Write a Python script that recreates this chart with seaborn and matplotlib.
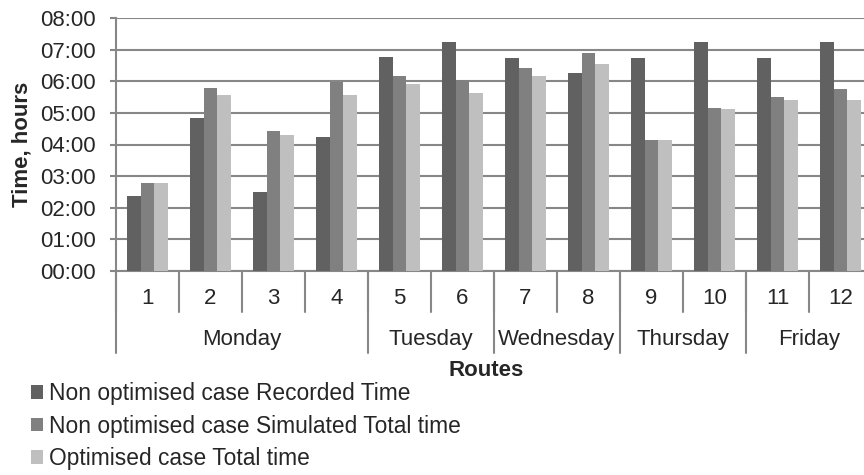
import pandas as pd
import matplotlib.pyplot as plt
import matplotlib.transforms as mtransforms
from matplotlib.ticker import FuncFormatter, MultipleLocator
import seaborn as sns

# data (hours)
routes = ['1', '2', '3', '4', '5', '6', '7', '8', '9', '10', '11', '12']
days = ['Monday', 'Tuesday', 'Wednesday', 'Thursday', 'Friday']
day_routes = [4, 2, 2, 2, 2]   # how many routes belong to each day
series = ['Non optimised case Recorded Time',
          'Non optimised case Simulated Total time',
          'Optimised case Total time']
recorded = [2.37, 4.84, 2.49, 4.24, 6.76, 7.25, 6.75, 6.25, 6.75, 7.25, 6.75, 7.25]
simulated = [2.79, 5.80, 4.42, 5.97, 6.17, 6.03, 6.43, 6.88, 4.13, 5.15, 5.50, 5.76]
optimised = [2.77, 5.57, 4.29, 5.55, 5.90, 5.64, 6.18, 6.56, 4.13, 5.11, 5.42, 5.40]

colors = ['#616161', '#808080', '#bfbfbf']
grey = '#878787'

df = pd.DataFrame({'route': routes * 3,
                   'series': [s for s in series for _ in routes],
                   'hours': recorded + simulated + optimised})

sns.set_style('white')
plt.rcParams['font.family'] = ['Liberation Sans', 'DejaVu Sans']
fs = 16

fig = plt.figure(figsize=(8.64, 4.75), dpi=100)
ax = fig.add_axes([116/864, 1-271/475, 756/864, 253/475])

sns.barplot(data=df, x='route', y='hours', hue='series', palette=colors,
            width=0.65, gap=0, linewidth=0, saturation=1, ax=ax, zorder=3)

ax.set_ylim(0, 8)
ax.set_xlim(-0.5, len(routes) - 0.5)
ax.yaxis.set_major_locator(MultipleLocator(1))
ax.yaxis.set_major_formatter(FuncFormatter(lambda v, p: '%02d:%02d' % (int(v), round((v % 1) * 60))))
ax.grid(axis='y', color=grey, linewidth=1.5, zorder=0)
ax.set_axisbelow(True)
for s in ['top', 'right']:
    ax.spines[s].set_visible(False)
for s in ['left', 'bottom']:
    ax.spines[s].set_color(grey)
    ax.spines[s].set_linewidth(1.5)
ax.tick_params(axis='y', left=True, length=4.3, width=1.5, color=grey, labelsize=fs, pad=10.5)
ax.set_xticks([])
ax.set_xlabel('')
ax.set_ylabel('Time, hours', fontsize=fs, fontweight='bold')
ax.yaxis.set_label_coords(-0.110, 0.5)

# two-level category axis
trans = mtransforms.blended_transform_factory(ax.transData, ax.transAxes)
h = 253.0
for i, r in enumerate(routes):
    ax.text(i, -27/h, r, transform=trans, ha='center', va='center', fontsize=fs)
    ax.plot([i - 0.5, i - 0.5], [0, -41/h], transform=trans, color=grey, lw=1.5, clip_on=False)
start = 0
for d, n in zip(days, day_routes):
    ax.text(start + (n - 1) / 2, -68/h, d, transform=trans, ha='center', va='center', fontsize=fs)
    ax.plot([start - 0.5, start - 0.5], [0, -82/h], transform=trans, color=grey, lw=1.5, clip_on=False)
    start += n
ax.text(0.49, -100/h, 'Routes', transform=ax.transAxes, ha='center', va='center',
        fontsize=fs, fontweight='bold')

sns.move_legend(ax, loc='upper left', bbox_to_anchor=(31/864, 1-382/475),
                bbox_transform=fig.transFigure, frameon=False, title=None,
                fontsize=16.4, handlelength=0.54, handleheight=0.54, handletextpad=0.25,
                labelspacing=0.42, borderpad=0, borderaxespad=0)

fig.savefig('out.png', dpi=100)
